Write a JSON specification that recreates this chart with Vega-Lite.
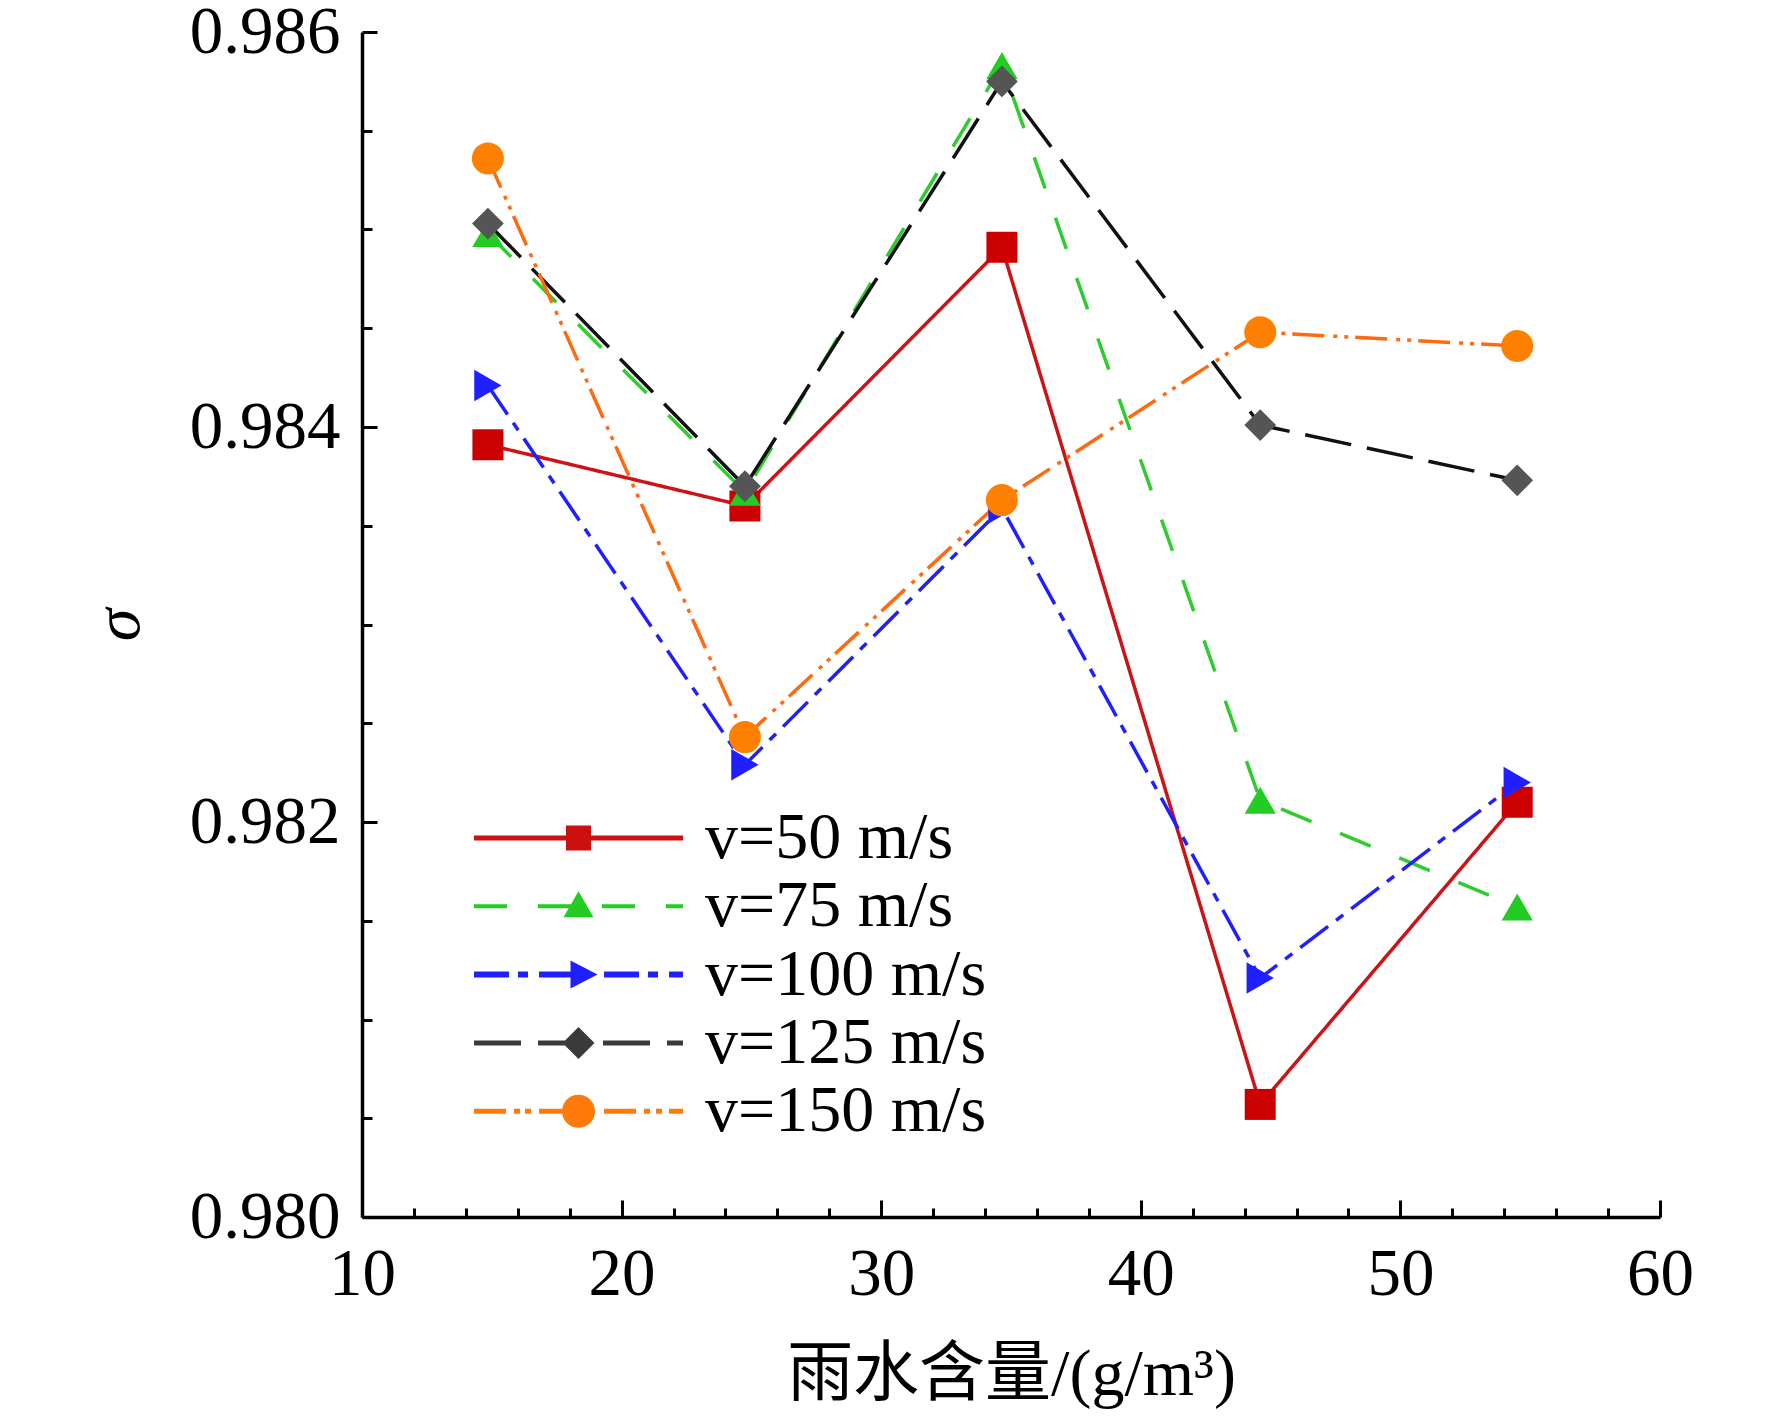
{
  "$schema": "https://vega.github.io/schema/vega-lite/v6.json",
  "width": 1298,
  "height": 1185,
  "autosize": {"type": "none"},
  "padding": {"left": 362, "top": 32, "right": 112, "bottom": 202},
  "background": "white",
  "config": {
    "view": {"stroke": null},
    "legend": {
      "orient": "none",
      "legendX": 183.5,
      "legendY": 773,
      "padding": 0,
      "rowPadding": 2.3,
      "symbolSize": 2500,
      "symbolStrokeWidth": 0,
      "symbolOpacity": 1,
      "labelOffset": 93.5,
      "labelFont": "Liberation Serif",
      "labelFontSize": 66,
      "labelColor": "black",
      "labelLimit": 500
    }
  },
  "data": {
    "values": [
      {"w": 14.85, "sigma": 0.98391, "v": "v=50 m/s"},
      {"w": 24.75, "sigma": 0.98360, "v": "v=50 m/s"},
      {"w": 34.65, "sigma": 0.98491, "v": "v=50 m/s"},
      {"w": 44.6, "sigma": 0.98057, "v": "v=50 m/s"},
      {"w": 54.5, "sigma": 0.98210, "v": "v=50 m/s"},
      {"w": 14.85, "sigma": 0.98498, "v": "v=75 m/s"},
      {"w": 24.75, "sigma": 0.98367, "v": "v=75 m/s"},
      {"w": 34.65, "sigma": 0.98583, "v": "v=75 m/s"},
      {"w": 44.6, "sigma": 0.98211, "v": "v=75 m/s"},
      {"w": 54.5, "sigma": 0.98157, "v": "v=75 m/s"},
      {"w": 14.85, "sigma": 0.98421, "v": "v=100 m/s"},
      {"w": 24.75, "sigma": 0.98229, "v": "v=100 m/s"},
      {"w": 34.65, "sigma": 0.98359, "v": "v=100 m/s"},
      {"w": 44.6, "sigma": 0.98121, "v": "v=100 m/s"},
      {"w": 54.5, "sigma": 0.98220, "v": "v=100 m/s"},
      {"w": 14.85, "sigma": 0.98503, "v": "v=125 m/s"},
      {"w": 24.75, "sigma": 0.98370, "v": "v=125 m/s"},
      {"w": 34.65, "sigma": 0.98575, "v": "v=125 m/s"},
      {"w": 44.6, "sigma": 0.98401, "v": "v=125 m/s"},
      {"w": 54.5, "sigma": 0.98373, "v": "v=125 m/s"},
      {"w": 14.85, "sigma": 0.98536, "v": "v=150 m/s"},
      {"w": 24.75, "sigma": 0.98243, "v": "v=150 m/s"},
      {"w": 34.65, "sigma": 0.98363, "v": "v=150 m/s"},
      {"w": 44.6, "sigma": 0.98448, "v": "v=150 m/s"},
      {"w": 54.5, "sigma": 0.98441, "v": "v=150 m/s"}
    ]
  },
  "encoding": {
    "x": {
      "field": "w",
      "type": "quantitative",
      "scale": {"domain": [10, 60], "nice": false, "zero": false},
      "axis": {
        "title": "雨水含量/(g/m³)",
        "titleFont": "Liberation Serif, Noto Sans CJK SC",
        "titleFontSize": 66,
        "titleFontWeight": "normal",
        "titleColor": "black",
        "titlePadding": 27,
        "values": [10, 12, 14, 16, 18, 20, 22, 24, 26, 28, 30, 32, 34, 36, 38, 40, 42, 44, 46, 48, 50, 52, 54, 56, 58, 60],
        "labelExpr": "datum.value % 10 === 0 ? datum.label : ''",
        "labelFont": "Liberation Serif",
        "labelFontSize": 67,
        "labelColor": "black",
        "labelPadding": 41,
        "labelFlush": false,
        "labelOverlap": false,
        "grid": false,
        "domainColor": "black",
        "domainWidth": 3.5,
        "tickColor": "black",
        "tickWidth": 3,
        "tickSize": {"condition": {"test": "datum.value % 10 === 0", "value": -17}, "value": -9}
      }
    },
    "y": {
      "field": "sigma",
      "type": "quantitative",
      "scale": {"domain": [0.98, 0.986], "nice": false, "zero": false},
      "axis": {
        "title": "σ",
        "titleFont": "Liberation Serif",
        "titleFontSize": 66,
        "titleFontStyle": "italic",
        "titleFontWeight": "normal",
        "titleColor": "black",
        "titlePadding": 37,
        "values": [0.98, 0.9805, 0.981, 0.9815, 0.982, 0.9825, 0.983, 0.9835, 0.984, 0.9845, 0.985, 0.9855, 0.986],
        "format": ".3f",
        "labelExpr": "round(datum.value * 10000) % 20 === 0 ? datum.label : ''",
        "labelFont": "Liberation Serif",
        "labelFontSize": 67,
        "labelColor": "black",
        "labelPadding": 37,
        "labelFlush": false,
        "labelOverlap": false,
        "grid": false,
        "domainColor": "black",
        "domainWidth": 3.5,
        "tickColor": "black",
        "tickWidth": 3,
        "tickSize": {"condition": {"test": "round(datum.value * 10000) % 20 === 0", "value": -15}, "value": -10}
      }
    }
  },
  "layer": [
    {
      "mark": {"type": "line", "strokeWidth": 3.5, "strokeCap": "butt"},
      "encoding": {
        "stroke": {
          "field": "v",
          "type": "nominal",
          "scale": {
            "domain": ["v=50 m/s", "v=75 m/s", "v=100 m/s", "v=125 m/s", "v=150 m/s"],
            "range": ["#cc1418", "#2ecc2e", "#2020ff", "#111111", "#ff6a10"]
          },
          "legend": null
        },
        "strokeDash": {
          "field": "v",
          "type": "nominal",
          "scale": {
            "domain": ["v=50 m/s", "v=75 m/s", "v=100 m/s", "v=125 m/s", "v=150 m/s"],
            "range": [[1, 0], [33, 31], [35, 10, 9, 10], [47, 16], [32, 9, 4, 7, 4, 7]]
          },
          "legend": null
        },
        "order": {"field": "w", "type": "quantitative"}
      }
    },
    {
      "mark": {"type": "point", "filled": true, "opacity": 1, "strokeWidth": 0},
      "encoding": {
        "fill": {
          "field": "v",
          "type": "nominal",
          "scale": {
            "domain": ["v=150 m/s", "v=125 m/s", "v=100 m/s", "v=75 m/s", "v=50 m/s"],
            "range": ["#ff8000", "#555555", "#2020ff", "#22cc22", "#cc0000"]
          },
          "legend": null
        },
        "shape": {
          "field": "v",
          "type": "nominal",
          "scale": {
            "domain": ["v=150 m/s", "v=125 m/s", "v=100 m/s", "v=75 m/s", "v=50 m/s"],
            "range": ["circle", "diamond", "triangle-right", "triangle-up", "square"]
          },
          "legend": null
        },
        "size": {
          "field": "v",
          "type": "ordinal",
          "scale": {
            "domain": ["v=150 m/s", "v=125 m/s", "v=100 m/s", "v=75 m/s", "v=50 m/s"],
            "range": [1024, 961, 800, 900, 625]
          },
          "legend": null
        }
      }
    },
    {
      "mark": {"type": "point", "filled": true, "opacity": 0, "size": 2500, "strokeWidth": 0},
      "encoding": {
        "fill": {
          "field": "v",
          "type": "nominal",
          "scale": {
            "domain": ["v=50 m/s", "v=75 m/s", "v=100 m/s", "v=125 m/s", "v=150 m/s"],
            "range": ["#cc1010", "#22cc22", "#2020ff", "#3a3a3a", "#ff7a0a"]
          },
          "legend": {"title": null}
        },
        "shape": {
          "field": "v",
          "type": "nominal",
          "scale": {
            "domain": ["v=50 m/s", "v=75 m/s", "v=100 m/s", "v=125 m/s", "v=150 m/s"],
            "range": [
              "M-4.18,-0.1H4.18V0.1H-4.18Z M-0.5,-0.5H0.5V0.5H-0.5Z",
              "M-4.18,-0.08H-2.86V0.08H-4.18Z M-1.62,-0.08H-0.3V0.08H-1.62Z M0.94,-0.08H2.26V0.08H0.94Z M3.5,-0.08H4.18V0.08H3.5Z M0,-0.6L0.6,0.44L-0.6,0.44Z",
              "M-4.18,-0.12H-2.78V0.12H-4.18Z M-2.42,-0.12H-2.02V0.12H-2.42Z M-1.58,-0.12H-0.18V0.12H-1.58Z M1.02,-0.12H2.42V0.12H1.02Z M2.78,-0.12H3.18V0.12H2.78Z M3.62,-0.12H4.18V0.12H3.62Z M-0.32,-0.56L0.76,0L-0.32,0.56Z",
              "M-4.18,-0.1H-2.3V0.1H-4.18Z M-1.62,-0.1H0.26V0.1H-1.62Z M0.98,-0.1H2.86V0.1H0.98Z M3.54,-0.1H4.18V0.1H3.54Z M0,-0.64L0.64,0L0,0.64L-0.64,0Z",
              "M-4.18,-0.1H-2.9V0.1H-4.18Z M-2.58,-0.1H-2.34V0.1H-2.58Z M-2.14,-0.1H-1.9V0.1H-2.14Z M-1.58,-0.1H-0.3V0.1H-1.58Z M1.02,-0.1H2.3V0.1H1.02Z M2.62,-0.1H2.86V0.1H2.62Z M3.1,-0.1H3.34V0.1H3.1Z M3.62,-0.1H4.18V0.1H3.62Z M-0.66,0A0.66,0.66 0 1,1 0.66,0A0.66,0.66 0 1,1 -0.66,0Z"
            ]
          },
          "legend": {"title": null}
        }
      }
    }
  ],
  "resolve": {"scale": {"fill": "independent", "shape": "independent"}}
}
